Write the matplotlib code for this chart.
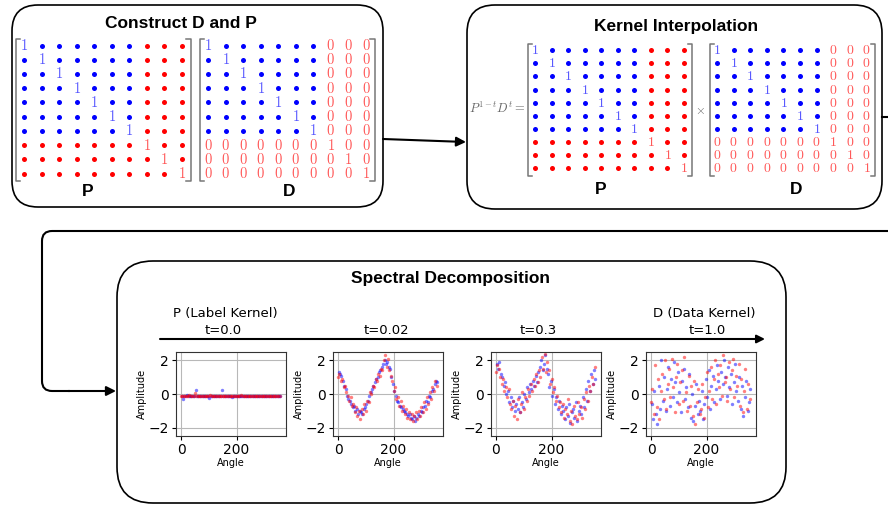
import matplotlib
matplotlib.use("Agg")
import matplotlib.pyplot as plt
import numpy as np
from matplotlib.patches import FancyBboxPatch, PathPatch
from matplotlib.path import Path

plt.rcParams['mathtext.fontset'] = 'cm'

W, H = 888, 505

# matrix blocks: 0 = blue class, 1 = red class
groups = [0, 0, 0, 0, 0, 0, 0, 1, 1, 1]

# scatter data (angle in degrees, amplitude)
angle_red = np.arange(0, 360, 5)
angle_blue = np.arange(2.5, 360, 5)
t_labels = ['t=0.0', 't=0.02', 't=0.3', 't=1.0']

red_t00 = [-0.10, -0.11, -0.09, -0.10, -0.12, -0.10, -0.08, -0.10, -0.11, -0.10, 0.05, -0.10,
           -0.09, -0.11, -0.10, -0.10, -0.12, -0.09, -0.10, -0.11, -0.10, -0.08, -0.10, -0.11,
           -0.10, -0.09, -0.10, -0.12, -0.10, -0.11, -0.10, -0.09, -0.10, -0.10, -0.11, -0.10,
           -0.12, -0.10, -0.09, -0.10, -0.11, -0.10, -0.10, -0.08, -0.10, -0.11, -0.10, -0.09,
           -0.10, -0.11, -0.10, -0.10, -0.12, -0.10, -0.09, -0.10, -0.11, -0.10, -0.10, -0.09,
           -0.11, -0.10, -0.10, -0.12, -0.10, -0.09, -0.10, -0.11, -0.10, -0.10, -0.12, -0.10]
blue_t00 = [-0.10, -0.30, -0.10, -0.09, -0.05, -0.10, -0.11, -0.10, -0.10, -0.09, 0.25, -0.14,
            -0.10, -0.11, -0.10, -0.09, -0.10, -0.10, -0.11, -0.10, -0.22, -0.10, -0.09, -0.10,
            -0.11, -0.10, -0.10, -0.09, -0.10, 0.22, -0.10, -0.11, -0.10, -0.10, -0.09, -0.10,
            -0.15, -0.10, -0.11, -0.10, -0.09, -0.10, -0.10, -0.11, -0.10, -0.10, -0.09, -0.10,
            -0.11, -0.10, -0.10, -0.09, -0.10, -0.10, -0.11, -0.10, -0.10, -0.09, -0.10, -0.11,
            -0.10, -0.10, -0.09, -0.10, -0.11, -0.10, -0.12, -0.10, -0.09, -0.10, -0.10, -0.11]

red_t002 = [1.0, 1.2, 0.8, 0.9, 0.4, 0.5, 0.1, -0.1, -0.4, -0.2, -0.7, -0.6,
            -1.1, -0.8, -1.3, -1.0, -1.5, -0.9, -1.2, -0.6, -1.0, -0.4, -0.5, 0.1,
            0.0, 0.5, 0.4, 0.9, 0.8, 1.2, 1.1, 1.5, 1.4, 2.0, 2.3, 1.6,
            2.1, 1.4, 1.1, 0.8, 0.2, 0.4, -0.3, -0.2, -0.7, -0.4, -1.0, -0.7,
            -1.2, -0.9, -1.4, -1.1, -1.5, -1.2, -1.6, -1.3, -1.1, -1.5, -1.0, -1.3,
            -0.8, -1.1, -0.5, -0.9, -0.2, -0.6, 0.1, -0.3, 0.4, 0.2, 0.8, 0.5]
blue_t002 = [1.3, 1.2, 1.1, 0.8, 0.5, 0.3, -0.1, -0.3, -0.4, -0.6, -0.8, -0.7,
             -1.0, -0.9, -1.2, -1.0, -1.1, -1.2, -0.9, -0.8, -0.6, -0.4, -0.1, 0.1,
             0.3, 0.5, 0.7, 0.9, 1.0, 1.3, 1.4, 1.6, 1.8, 2.0, 1.8, 1.9,
             1.6, 1.5, 1.0, 0.6, 0.2, -0.1, -0.4, -0.5, -0.7, -0.8, -0.9, -1.0,
             -1.1, -1.2, -1.3, -1.2, -1.4, -1.5, -1.3, -1.6, -1.4, -1.2, -1.3, -1.0,
             -1.1, -0.8, -0.7, -0.4, -0.5, -0.1, -0.2, 0.2, 0.3, 0.6, 0.8, 0.7]

red_t03 = [1.3, 1.7, 1.5, 1.0, 0.6, 0.9, 0.2, 0.4, -0.2, 0.3, -0.6, -0.9,
           -0.4, -1.3, -0.7, -1.5, -0.3, -1.1, -0.6, 0.1, -0.9, -0.2, -0.4, 0.3,
           -0.1, 0.6, 0.2, 0.9, 0.5, 1.2, 0.7, 1.4, 1.0, 2.2, 1.5, 2.4,
           1.3, 1.9, 1.4, 0.6, 0.9, 0.1, 0.4, -0.4, -0.1, -0.8, -0.5, -1.1,
           -0.6, -1.4, -0.9, -1.2, -0.3, -1.6, -1.0, -1.8, -0.7, -1.3, -1.5, -0.5,
           -1.2, -0.8, -1.4, -0.3, -0.9, 0.1, -0.4, 0.5, 0.2, 1.0, 0.6, 1.6]
blue_t03 = [1.8, 1.5, 1.9, 1.2, 1.0, 0.5, 0.7, 0.0, 0.2, -0.5, -0.2, -0.8,
            -0.4, -1.0, -0.6, -0.9, -0.2, -1.1, -0.5, -0.8, 0.0, -0.3, 0.4, 0.1,
            0.6, 0.3, 0.8, 0.5, 1.1, 0.7, 1.3, 1.6, 2.0, 1.4, 1.8, 2.3,
            1.5, 1.2, 0.4, 0.8, -0.1, 0.3, -0.6, -0.2, -0.9, -0.4, -1.2, -0.7,
            -1.0, -1.5, -0.8, -1.3, -0.6, -1.7, -1.1, -0.9, -1.4, -0.5, -1.6, -1.0,
            -0.7, -1.2, -0.2, -0.8, 0.3, -0.4, 0.8, 0.2, 1.2, 0.6, 1.4, 0.9]

red_t10 = [-0.5, 0.3, -1.2, 1.7, -0.8, 0.9, -1.5, 0.2, 1.2, -0.3, 2.0, -0.9,
           0.6, 1.5, -0.2, 2.1, 0.4, -1.1, 1.0, 1.8, -0.6, 0.7, 1.4, -0.4,
           2.2, 0.1, -1.0, 1.1, -0.7, 0.5, -1.3, 0.8, -1.8, -0.5, 0.3, -1.2,
           -0.9, 0.6, -1.4, -0.2, 1.3, -0.8, 0.2, 1.6, -0.3, 0.9, 2.0, -0.6,
           1.2, 0.4, 1.7, -0.1, 2.3, 0.7, 1.0, -0.4, 1.9, 0.3, 1.4, 2.1,
           -0.2, 1.1, 0.5, 1.8, -0.7, 0.9, -1.1, 0.2, 1.5, -0.9, 0.6, -0.3]
blue_t10 = [-0.6, -1.5, 0.2, -1.2, -1.8, 0.5, -0.9, 2.0, -0.4, 1.0, -1.0, 0.3,
            1.6, -0.7, 0.9, -0.2, 1.9, 0.7, -0.5, 1.3, 0.1, -1.1, 0.8, 1.5,
            -0.3, 0.4, -0.8, 1.2, -1.4, 0.0, -1.6, -0.7, 0.6, -1.2, -0.4, -1.0,
            0.2, -1.5, -0.6, 0.9, -0.2, 1.4, -0.9, 0.5, 1.1, -0.5, 0.3, 1.7,
            0.8, -0.3, 1.3, 0.6, 2.0, 1.0, -0.1, 1.6, 0.4, 1.2, -0.6, 0.7,
            1.8, 0.2, -0.4, 1.0, -0.9, 0.5, -1.3, -0.2, 0.8, -1.0, -0.5, 0.3]

red_vals = [red_t00, red_t002, red_t03, red_t10]
blue_vals = [blue_t00, blue_t002, blue_t03, blue_t10]

fig = plt.figure(figsize=(W / 100, H / 100), dpi=100)
ax = fig.add_axes([0, 0, 1, 1])
ax.set_xlim(0, W)
ax.set_ylim(H, 0)
ax.axis('off')


def px_axes(l, t, w, h):
    return fig.add_axes([l / W, 1 - (t + h) / H, w / W, h / H])


def box(l, t, r, b, rad):
    ax.add_patch(FancyBboxPatch((l, t), r - l, b - t,
                                boxstyle="round,pad=0,rounding_size=%d" % rad,
                                fc='white', ec='black', lw=1.2))


# boxes
box(12, 5, 383, 207, 26)
box(467, 5, 882, 209, 28)
box(117, 261, 786, 503, 36)

title_kw = dict(fontsize=12.5, fontweight='bold', family='Liberation Sans',
                ha='center', va='center')
ax.text(181, 24, 'Construct D and P', **title_kw)
ax.text(676, 26, 'Kernel Interpolation', **title_kw)
ax.text(450, 279, 'Spectral Decomposition', **title_kw)
ax.text(88, 191, 'P', **title_kw)
ax.text(289, 192, 'D', **title_kw)
ax.text(601, 190, 'P', **title_kw)
ax.text(796, 190, 'D', **title_kw)


def draw_matrix(cx0, cx1, cy0, cy1, kind, fs):
    n = len(groups)
    dx = (cx1 - cx0) / (n - 1)
    dy = (cy1 - cy0) / (n - 1)
    m = px_axes(cx0 - dx / 2, cy0 - dy / 2, cx1 - cx0 + dx, cy1 - cy0 + dy)
    m.set_xlim(-0.5, n - 0.5)
    m.set_ylim(n - 0.5, -0.5)
    m.axis('off')
    dots = {'blue': ([], []), 'red': ([], [])}
    for i in range(n):
        for j in range(n):
            same_blue = groups[i] == 0 and groups[j] == 0
            if i == j:
                c = 'blue' if groups[i] == 0 else 'red'
                m.text(j, i, '$1$', ha='center', va='center', fontsize=fs,
                       color=c, alpha=0.65)
            elif kind == 'P' or same_blue:
                c = 'blue' if same_blue else 'red'
                dots[c][0].append(j)
                dots[c][1].append(i)
            else:
                m.text(j, i, '$0$', ha='center', va='center', fontsize=fs,
                       color='red', alpha=0.65)
    for c, (xs, ys) in dots.items():
        m.scatter(xs, ys, s=13, color=c, lw=0)
    bc = '#777777'
    m.plot([-0.2, -0.45, -0.45, -0.2], [-0.45, -0.45, n - 0.45, n - 0.45],
           color=bc, lw=1.1, clip_on=False)
    m.plot([n - 0.75, n - 0.5, n - 0.5, n - 0.75], [-0.45, -0.45, n - 0.45, n - 0.45],
           color=bc, lw=1.1, clip_on=False)


draw_matrix(24, 182, 45.5, 173.5, 'P', 10.5)
draw_matrix(208, 366, 45.5, 173.5, 'D', 10.5)
draw_matrix(535, 684, 50, 168.5, 'P', 10)
draw_matrix(717, 866.5, 50, 168.5, 'D', 10)

ax.text(497, 108, r'$P^{1-t}D^t =$', ha='center', va='center', fontsize=9,
        color='#666666')
ax.text(700, 110, r'$\times$', ha='center', va='center', fontsize=9,
        color='#666666')

arrow_kw = dict(arrowstyle='-|>', color='black', lw=1.5, mutation_scale=14,
                shrinkA=0, shrinkB=0)
# box1 -> box2
ax.annotate('', xy=(466, 142), xytext=(383, 139), arrowprops=arrow_kw)
# out of box2 to the right
ax.plot([882, 888], [117, 117], color='black', lw=1.5)
# long connector back to box3
verts = [(888, 231), (52, 231), (42, 231), (42, 241), (42, 381), (42, 391), (52, 391), (70, 391)]
codes = [Path.MOVETO, Path.LINETO, Path.CURVE3, Path.CURVE3, Path.LINETO,
         Path.CURVE3, Path.CURVE3, Path.LINETO]
ax.add_patch(PathPatch(Path(verts, codes), fc='none', ec='black', lw=1.5))
ax.annotate('', xy=(116, 391), xytext=(68, 391), arrowprops=arrow_kw)

# timeline
ax.annotate('', xy=(765, 339), xytext=(160, 339),
            arrowprops=dict(arrowstyle='-|>', color='black', lw=1.5,
                            mutation_scale=12, shrinkA=0, shrinkB=0))
tl_kw = dict(fontsize=9.5, ha='center', va='center')
ax.text(225, 314, 'P (Label Kernel)', **tl_kw)
ax.text(704, 314, 'D (Data Kernel)', **tl_kw)
tx = [223, 386, 538, 707]
for k in range(4):
    ax.text(tx[k], 330, t_labels[k], **tl_kw)

# scatter panels
pos = [176, 333, 491, 646]
for k in range(4):
    a = px_axes(pos[k], 352, 110, 84)
    a.scatter(angle_blue, blue_vals[k], s=6, color='blue', alpha=0.5, lw=0)
    a.scatter(angle_red, red_vals[k], s=6, color='red', alpha=0.5, lw=0)
    a.set_xlim(-18, 378)
    a.set_ylim(-2.5, 2.5)
    a.set_xticks([0, 200])
    a.set_yticks([-2, 0, 2])
    a.grid(True, color='#b8b8b8', lw=0.8)
    a.set_axisbelow(True)
    a.tick_params(labelsize=10, length=3, pad=2)
    a.set_xlabel('Angle', fontsize=7, labelpad=1)
    a.set_ylabel('Amplitude', fontsize=7, labelpad=1)
    for s in a.spines.values():
        s.set_color('#333333')
        s.set_linewidth(0.8)

fig.savefig('out.png', dpi=100)
